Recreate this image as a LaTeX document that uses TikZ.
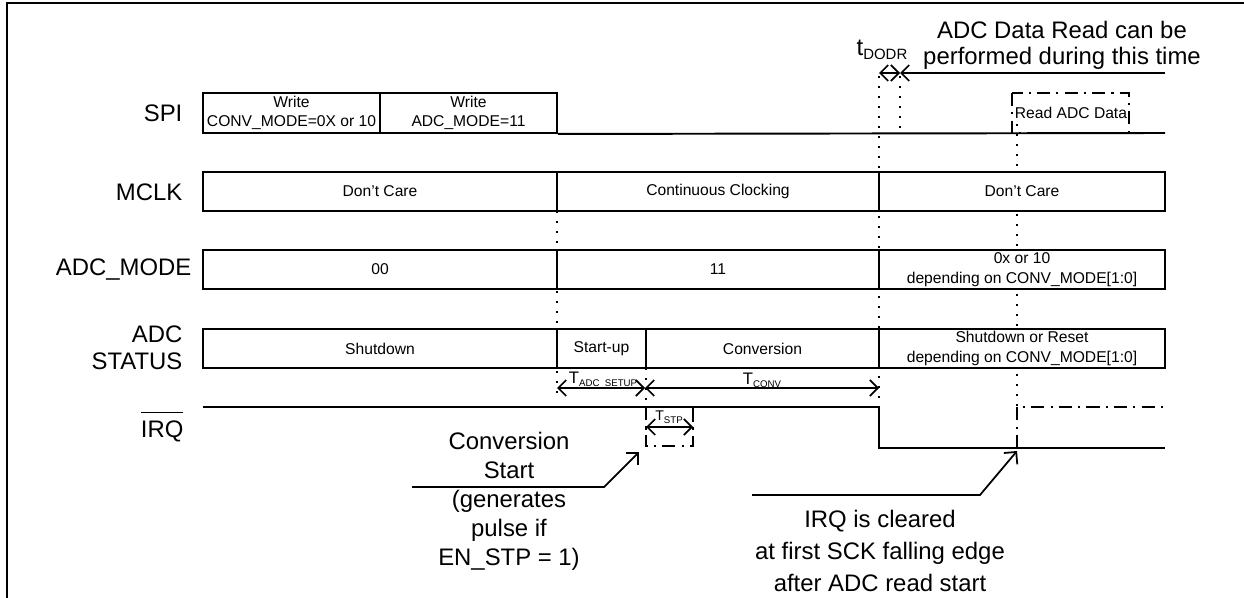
\documentclass[tikz,border=0pt]{standalone}
\usepackage{fontspec}
\setmainfont{Liberation Sans}
\usetikzlibrary{arrows.meta}

\tikzset{every picture/.style={line width=0.75pt}}
\tikzset{
  box/.style 2 args={draw, fill=white, line width=1.1pt, inner sep=0pt,
    minimum width=#1*0.02cm, minimum height=#2*0.02cm,
    font=\fontsize{8.9}{11}\selectfont, align=center},
  sig/.style={line width=1.1pt},
  guide/.style={line width=1pt, dash pattern=on 1pt off 4.7pt},
  dashdot/.style={line width=1.1pt, dash pattern=on 7.5pt off 3.5pt on 1.2pt off 3.5pt},
  barb/.tip={Straight Barb[length=4.5pt,width=9pt,line width=1pt]},
  tim/.style={line width=1pt, barb-barb},
  lead/.style={line width=1pt, -{Straight Barb[length=5pt,width=10pt,line width=1pt]}},
  rowlabel/.style={font=\fontsize{13.6}{15.4}\selectfont, inner sep=0pt, anchor=east, align=right},
  note/.style={font=\fontsize{13.6}{#1}\selectfont, inner sep=0pt, align=center},
  tlabel/.style={font=\fontsize{9.5}{10}\selectfont, inner sep=0pt}
}
\newcommand{\tsub}[1]{\raisebox{-1.5pt}{\fontsize{5.5}{6}\selectfont #1}}

\begin{document}
\begin{tikzpicture}[x=0.02cm, y=-0.02cm]
    \useasboundingbox (0,0) rectangle (1244,598);
    \draw[line width=1.2pt] (7,598) -- (7,3) -- (1244,3);

    % dotted guides (boxes are drawn over them)
    \draw[guide] (557,211) -- (557,398);
    \draw[guide] (879,76) -- (879,407);
    \draw[guide] (900,76) -- (900,133);
    \draw[guide] (1017,124) -- (1017,407);
    \draw[guide] (646,368) -- (646,430);
    \draw[guide] (693,407) -- (693,430);

    % row labels
    \node[rowlabel] (lspi) at (183,113) {SPI};
    \node[rowlabel] (lmclk) at (183,192) {MCLK};
    \node[rowlabel] (lmode) at (192,270) {ADC\_MODE};
    \node[rowlabel] (lstat) at (183,348) {ADC\\STATUS};
    \node[rowlabel] (lirq) at (184,427) {$\overline{\hbox{IRQ}\rule{0pt}{13pt}}$};

    % SPI
    \node[box={177}{40}] (spiA) at (291.5,113) {Write\\CONV\_MODE=0X or 10};
    \node[box={177}{40}] (spiB) at (468.5,113) {Write\\ADC\_MODE=11};
    \draw[sig] (spiB.south east) -- (1165,133);
    \draw[dashdot, line width=1pt] (1012,93) rectangle (1129,133);
    \node[font=\fontsize{8.9}{11}\selectfont, inner sep=0pt] (rdata) at (1071,113) {Read ADC Data};

    % MCLK
    \node[box={354}{39}] (mclkA) at (380,191.5) {Don’t Care};
    \node[box={322}{39}] (mclkB) at (718,191.5) {Continuous Clocking};
    \node[box={286}{39}] (mclkC) at (1022,191.5) {Don’t Care};

    % ADC_MODE
    \node[box={354}{39}] (modeA) at (380,269.5) {00};
    \node[box={322}{39}] (modeB) at (718,269.5) {11};
    \node[box={286}{39}] (modeC) at (1022,269.5) {0x or 10\\depending on CONV\_MODE[1:0]};

    % ADC STATUS
    \node[box={354}{39}] (statA) at (380,348.5) {Shutdown};
    \node[box={89}{39}] (statB) at (601.5,348.5) {Start-up};
    \node[box={233}{39}] (statC) at (762.5,348.5) {Conversion};
    \node[box={286}{39}] (statD) at (1022,348.5) {Shutdown or Reset\\depending on CONV\_MODE[1:0]};

    % timing marks
    \coordinate (tsA) at (557,388);
    \coordinate (tsB) at (645,388);
    \coordinate (tsC) at (879,388);
    \draw[tim] (tsA) -- (tsB);
    \draw[tim] (tsB) -- (tsC);
    \node[tlabel] (tsetup) at (603,380) {T\tsub{ADC\_SETUP}};
    \node[tlabel] (tconv) at (762,380) {T\tsub{CONV}};

    \coordinate (doA) at (879,73);
    \coordinate (doB) at (900,73);
    \coordinate (doC) at (1165,73);
    \draw[tim] (doA) -- (doB);
    \draw[line width=1pt, barb-] (doB) -- (doC);
    \node[font=\fontsize{13.6}{15}\selectfont, inner sep=0pt] (tdodr) at (882,50) {t\raisebox{-2.5pt}{\fontsize{8.5}{9}\selectfont DODR}};
    \node[note=14.6pt] (rdnote) at (1062,45) {ADC Data Read can be\\performed during this time};

    % IRQ
    \draw[sig] (203,407) -- (879,407) -- (879,448) -- (1165,448);
    \draw[dashdot] (646,407) -- (646,446) -- (693,446) -- (693,407);
    \draw[dashdot] (1017,448) -- (1017,407) -- (1165,407);
    \coordinate (stA) at (646,427);
    \coordinate (stB) at (693,427);
    \draw[tim] (stA) -- (stB);
    \node[font=\fontsize{8}{9}\selectfont, inner sep=0pt] (tstp) at (669,417) {T\tsub{STP}};

    % notes
    \node[note=16.5pt] (cvnote) at (509,501) {Conversion\\Start\\(generates\\pulse if\\EN\_STP = 1)};
    \coordinate (cvL) at (412,487);
    \coordinate (cvK) at (604,487);
    \coordinate (cvT) at (639,452);
    \draw[lead] (cvL) -- (cvK) -- (cvT);

    \node[note=18.2pt] (iqnote) at (880,551) {IRQ is cleared\\at first SCK falling edge\\after ADC read start};
    \coordinate (iqL) at (752,495);
    \coordinate (iqK) at (980,495);
    \coordinate (iqT) at (1017,451);
    \draw[lead] (iqL) -- (iqK) -- (iqT);
\end{tikzpicture}
\end{document}
